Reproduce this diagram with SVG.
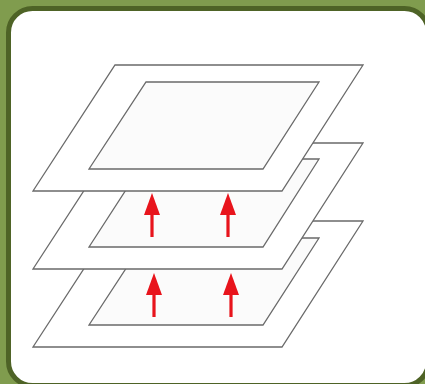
<svg xmlns="http://www.w3.org/2000/svg" width="425" height="384" viewBox="0 0 425 384">
<defs>
<style>
.outer{fill:#ffffff;stroke:#6a6a6a;stroke-width:1.3;stroke-linejoin:miter}
.inner{fill:#fbfbfb;stroke:#6a6a6a;stroke-width:1.3}
.shaft{stroke:#e8141c;stroke-width:3.2;fill:none}
.head{fill:#e8141c}
</style>
</defs>
<rect x="0" y="0" width="425" height="384" fill="#809c4e"/>
<rect x="8.5" y="8.5" width="420" height="377" rx="24" fill="#ffffff" stroke="#4e6326" stroke-width="5"/>
<g id="layer-bottom">
<polygon class="outer" points="115,221 363,221 282,347 33,347"/>
<polygon class="inner" points="146,238 319,238 263,325 89,325"/>
</g>
<g id="layer-middle">
<polygon class="outer" points="115,143 363,143 282,269 33,269"/>
<polygon class="inner" points="146,159 319,159 263,247 89,247"/>
</g>
<g id="layer-top">
<polygon class="outer" points="115,65 363,65 282,191 33,191"/>
<polygon class="inner" points="146,82 319,82 263,169 89,169"/>
</g>
<g id="connectors">
<line class="shaft" x1="152" y1="213" x2="152" y2="237"/>
<polygon class="head" points="152,193 160,215 144,215"/>
<line class="shaft" x1="228" y1="213" x2="228" y2="237"/>
<polygon class="head" points="228,193 236,215 220,215"/>
<line class="shaft" x1="154" y1="293" x2="154" y2="317"/>
<polygon class="head" points="154,273 162,295 146,295"/>
<line class="shaft" x1="231" y1="293" x2="231" y2="317"/>
<polygon class="head" points="231,273 239,295 223,295"/>
</g>
</svg>
